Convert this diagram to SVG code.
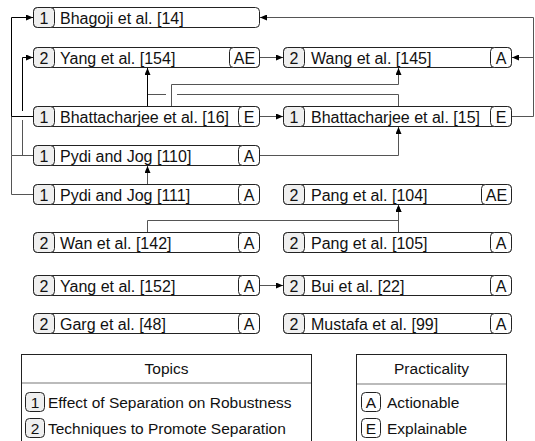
<svg xmlns="http://www.w3.org/2000/svg" width="535" height="441" viewBox="0 0 535 441">
<style>
text{font-family:"Liberation Sans",Arial,sans-serif;font-size:16px;fill:#111}
.box{fill:#fff;stroke:#222;stroke-width:1}
.tb{fill:#efefef;stroke:#222;stroke-width:1}
.pb{fill:#fff;stroke:#222;stroke-width:1}
.c{text-anchor:middle}
.lk{fill:none;stroke:#000;stroke-width:1}
.lg{fill:none;stroke:#555;stroke-width:1}
.leg{fill:#fff;stroke:#222;stroke-width:1}
.div{stroke:#bbb;stroke-width:2}
.lt{font-size:15.5px}
</style>
<defs>
<marker id="ah" markerWidth="7" markerHeight="6" refX="7" refY="3" orient="auto" markerUnits="userSpaceOnUse"><path d="M0,0 L7,3 L0,6 z" fill="#000"/></marker>
</defs>
<g id="connectors">
<path class="lg" d="M33,194.5 H11.5 V155.5 H33"/>
<path class="lg" d="M11.5,155.5 V116.5"/>
<path class="lk" d="M33,116.5 H11.5 V17.5 H33" marker-end="url(#ah)"/>
<path class="lg" d="M22.5,155.5 V120"/>
<path class="lk" d="M22.5,111 V57.5 H33" marker-end="url(#ah)"/>
<path class="lk" d="M147.5,106 V68" marker-end="url(#ah)"/>
<path class="lg" d="M398.5,106 V94.5 H177 M166,94.5 H148"/>
<path class="lg" d="M171.5,106 V84.5 H398.5 V68" marker-end="url(#ah)"/>
<path class="lg" d="M260,57.5 H283" marker-end="url(#ah)"/>
<path class="lg" d="M260,116.5 H283" marker-end="url(#ah)"/>
<path class="lg" d="M260,155.5 H398.5 V127" marker-end="url(#ah)"/>
<path class="lg" d="M147.5,184 V166" marker-end="url(#ah)"/>
<path class="lg" d="M512,116.5 H533.5 V17.5 H260" marker-end="url(#ah)"/>
<path class="lg" d="M533.5,57.5 H512" marker-end="url(#ah)"/>
<path class="lg" d="M147.5,232 V220.5 H398.5 V205" marker-end="url(#ah)"/>
<path class="lg" d="M398.5,232 V205" marker-end="url(#ah)"/>
<path class="lg" d="M260,285.5 H283" marker-end="url(#ah)"/>
</g>
<g id="n_bhagoji14"><rect class="box" x="33.5" y="7.5" width="226" height="20" rx="4"/><rect class="tb" x="33.5" y="7.5" width="21" height="20" rx="4"/><text class="c" x="44" y="23.5">1</text><text x="60" y="23.5">Bhagoji et al. [14]</text></g>
<g id="n_yang154"><rect class="box" x="33.5" y="47.5" width="226" height="20" rx="4"/><rect class="tb" x="33.5" y="47.5" width="21" height="20" rx="4"/><text class="c" x="44" y="63.5">2</text><text x="60" y="63.5">Yang et al. [154]</text><rect class="pb" x="229.5" y="47.5" width="30" height="20" rx="4"/><text class="c" x="244.5" y="63.5">AE</text></g>
<g id="n_bhatt16"><rect class="box" x="33.5" y="106.5" width="226" height="20" rx="4"/><rect class="tb" x="33.5" y="106.5" width="21" height="20" rx="4"/><text class="c" x="44" y="122.5">1</text><text x="60" y="122.5">Bhattacharjee et al. [16]</text><rect class="pb" x="238.5" y="106.5" width="21" height="20" rx="4"/><text class="c" x="249" y="122.5">E</text></g>
<g id="n_pydi110"><rect class="box" x="33.5" y="145.5" width="226" height="20" rx="4"/><rect class="tb" x="33.5" y="145.5" width="21" height="20" rx="4"/><text class="c" x="44" y="161.5">1</text><text x="60" y="161.5">Pydi and Jog [110]</text><rect class="pb" x="238.5" y="145.5" width="21" height="20" rx="4"/><text class="c" x="249" y="161.5">A</text></g>
<g id="n_pydi111"><rect class="box" x="33.5" y="184.5" width="226" height="20" rx="4"/><rect class="tb" x="33.5" y="184.5" width="21" height="20" rx="4"/><text class="c" x="44" y="200.5">1</text><text x="60" y="200.5">Pydi and Jog [111]</text><rect class="pb" x="238.5" y="184.5" width="21" height="20" rx="4"/><text class="c" x="249" y="200.5">A</text></g>
<g id="n_wan142"><rect class="box" x="33.5" y="232.5" width="226" height="20" rx="4"/><rect class="tb" x="33.5" y="232.5" width="21" height="20" rx="4"/><text class="c" x="44" y="248.5">2</text><text x="60" y="248.5">Wan et al. [142]</text><rect class="pb" x="238.5" y="232.5" width="21" height="20" rx="4"/><text class="c" x="249" y="248.5">A</text></g>
<g id="n_yang152"><rect class="box" x="33.5" y="275.5" width="226" height="20" rx="4"/><rect class="tb" x="33.5" y="275.5" width="21" height="20" rx="4"/><text class="c" x="44" y="291.5">2</text><text x="60" y="291.5">Yang et al. [152]</text><rect class="pb" x="238.5" y="275.5" width="21" height="20" rx="4"/><text class="c" x="249" y="291.5">A</text></g>
<g id="n_garg48"><rect class="box" x="33.5" y="313.5" width="226" height="20" rx="4"/><rect class="tb" x="33.5" y="313.5" width="21" height="20" rx="4"/><text class="c" x="44" y="329.5">2</text><text x="60" y="329.5">Garg et al. [48]</text><rect class="pb" x="238.5" y="313.5" width="21" height="20" rx="4"/><text class="c" x="249" y="329.5">A</text></g>
<g id="n_wang145"><rect class="box" x="283.5" y="47.5" width="228" height="20" rx="4"/><rect class="tb" x="283.5" y="47.5" width="21" height="20" rx="4"/><text class="c" x="294" y="63.5">2</text><text x="311" y="63.5">Wang et al. [145]</text><rect class="pb" x="490.5" y="47.5" width="21" height="20" rx="4"/><text class="c" x="501" y="63.5">A</text></g>
<g id="n_bhatt15"><rect class="box" x="283.5" y="106.5" width="228" height="20" rx="4"/><rect class="tb" x="283.5" y="106.5" width="21" height="20" rx="4"/><text class="c" x="294" y="122.5">1</text><text x="311" y="122.5">Bhattacharjee et al. [15]</text><rect class="pb" x="490.5" y="106.5" width="21" height="20" rx="4"/><text class="c" x="501" y="122.5">E</text></g>
<g id="n_pang104"><rect class="box" x="283.5" y="184.5" width="228" height="20" rx="4"/><rect class="tb" x="283.5" y="184.5" width="21" height="20" rx="4"/><text class="c" x="294" y="200.5">2</text><text x="311" y="200.5">Pang et al. [104]</text><rect class="pb" x="481.5" y="184.5" width="30" height="20" rx="4"/><text class="c" x="496.5" y="200.5">AE</text></g>
<g id="n_pang105"><rect class="box" x="283.5" y="232.5" width="228" height="20" rx="4"/><rect class="tb" x="283.5" y="232.5" width="21" height="20" rx="4"/><text class="c" x="294" y="248.5">2</text><text x="311" y="248.5">Pang et al. [105]</text><rect class="pb" x="490.5" y="232.5" width="21" height="20" rx="4"/><text class="c" x="501" y="248.5">A</text></g>
<g id="n_bui22"><rect class="box" x="283.5" y="275.5" width="228" height="20" rx="4"/><rect class="tb" x="283.5" y="275.5" width="21" height="20" rx="4"/><text class="c" x="294" y="291.5">2</text><text x="311" y="291.5">Bui et al. [22]</text><rect class="pb" x="490.5" y="275.5" width="21" height="20" rx="4"/><text class="c" x="501" y="291.5">A</text></g>
<g id="n_mustafa99"><rect class="box" x="283.5" y="313.5" width="228" height="20" rx="4"/><rect class="tb" x="283.5" y="313.5" width="21" height="20" rx="4"/><text class="c" x="294" y="329.5">2</text><text x="311" y="329.5">Mustafa et al. [99]</text><rect class="pb" x="490.5" y="313.5" width="21" height="20" rx="4"/><text class="c" x="501" y="329.5">A</text></g>
<g id="legend_topics">
<rect class="leg" x="21.5" y="354.5" width="290" height="100"/>
<line class="div" x1="22" y1="383" x2="311" y2="383"/>
<text class="c lt" x="166.5" y="374">Topics</text>
<rect class="tb" x="25.5" y="392.5" width="19" height="19" rx="4"/><text class="c lt" x="35" y="407.5">1</text><text class="lt" x="48" y="407.5">Effect of Separation on Robustness</text>
<rect class="tb" x="25.5" y="418.5" width="19" height="19" rx="4"/><text class="c lt" x="35" y="433.5">2</text><text class="lt" x="48" y="433.5">Techniques to Promote Separation</text>
</g>
<g id="legend_practicality">
<rect class="leg" x="356.5" y="354.5" width="150" height="100"/>
<line class="div" x1="357" y1="384" x2="506" y2="384"/>
<text class="c lt" x="431.5" y="374">Practicality</text>
<rect class="pb" x="361.5" y="392.5" width="19" height="19" rx="4"/><text class="c lt" x="371" y="407.5">A</text><text class="lt" x="387" y="407.5">Actionable</text>
<rect class="pb" x="361.5" y="418.5" width="19" height="19" rx="4"/><text class="c lt" x="371" y="433.5">E</text><text class="lt" x="387" y="433.5">Explainable</text>
</g>
</svg>
